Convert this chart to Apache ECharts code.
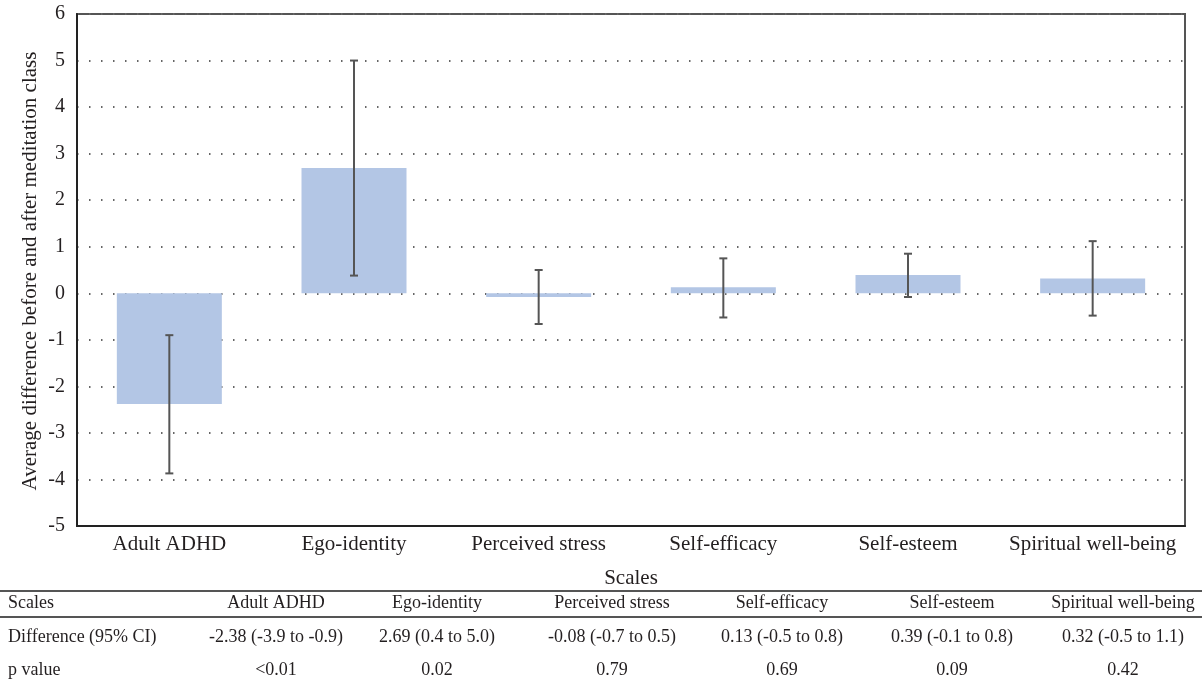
<!DOCTYPE html>
<html>
<head>
<meta charset="utf-8">
<script src="https://cdn.jsdelivr.net/npm/echarts@6/dist/echarts.min.js"></script>
<style>
  html, body { margin: 0; padding: 0; background: #fff; }
  #chart { width: 1202px; height: 684px; }
</style>
</head>
<body>
<div id="chart"></div>
<script>
// data
var categories = ['Adult ADHD', 'Ego-identity', 'Perceived stress', 'Self-efficacy', 'Self-esteem', 'Spiritual well-being'];
var diffs = [-2.38, 2.69, -0.08, 0.13, 0.39, 0.32];
var ciLow = [-3.87, 0.38, -0.66, -0.52, -0.08, -0.48];
var ciHigh = [-0.9, 5.0, 0.5, 0.75, 0.85, 1.12];
var ciText = ['-2.38 (-3.9 to -0.9)', '2.69 (0.4 to 5.0)', '-0.08 (-0.7 to 0.5)', '0.13 (-0.5 to 0.8)', '0.39 (-0.1 to 0.8)', '0.32 (-0.5 to 1.1)'];
var pValues = ['<0.01', '0.02', '0.79', '0.69', '0.09', '0.42'];

var FONT = '"Liberation Serif", "DejaVu Serif", serif';
var TXT = '#231f20';

var chart = echarts.init(document.getElementById('chart'));

// table below the chart
var colX = [276, 437, 612, 782, 952, 1123];
var rowY = [603, 637, 670];
var rowNames = ['Scales', 'Difference (95% CI)', 'p value'];
var rows = [categories, ciText, pValues];
var tableEls = [
  { type: 'line', shape: { x1: 0, y1: 591, x2: 1202, y2: 591 }, style: { stroke: '#555', lineWidth: 2 } },
  { type: 'line', shape: { x1: 0, y1: 617, x2: 1202, y2: 617 }, style: { stroke: '#555', lineWidth: 2 } }
];
rowNames.forEach(function (name, r) {
  tableEls.push({ type: 'text', x: 8, y: rowY[r], style: { text: name, font: '18px ' + FONT, fill: TXT, textAlign: 'left', textVerticalAlign: 'middle' } });
  rows[r].forEach(function (v, c) {
    tableEls.push({ type: 'text', x: colX[c], y: rowY[r], style: { text: v, font: '18px ' + FONT, fill: TXT, textAlign: 'center', textVerticalAlign: 'middle' } });
  });
});
// y axis title
tableEls.push({
  type: 'text', x: 30, y: 271, rotation: Math.PI / 2,
  style: { text: 'Average difference before and after meditation class', font: '21px ' + FONT, fill: TXT, textAlign: 'center', textVerticalAlign: 'middle' }
});

var option = {
  animation: false,
  backgroundColor: '#fff',
  grid: {
    left: 77, right: 17, top: 14, bottom: 158,
    show: true, borderColor: '#555', borderWidth: 2
  },
  xAxis: {
    type: 'category',
    data: categories,
    name: 'Scales',
    nameLocation: 'middle',
    nameGap: 42,
    nameTextStyle: { fontFamily: FONT, fontSize: 21, color: TXT },
    axisLine: { show: true, onZero: false, lineStyle: { color: '#222', width: 2 } },
    axisTick: { show: false },
    axisLabel: { fontFamily: FONT, fontSize: 21, color: TXT, margin: 8, interval: 0 }
  },
  yAxis: {
    type: 'value',
    min: -5, max: 6, interval: 1,
    axisLine: { show: true, lineStyle: { color: '#222', width: 2 } },
    axisTick: { show: false },
    axisLabel: { fontFamily: FONT, fontSize: 20, color: TXT, margin: 12 },
    splitLine: { show: true, lineStyle: { color: '#666', width: 2, type: [1.5, 10.5] } }
  },
  graphic: tableEls,
  series: [
    {
      type: 'bar',
      data: diffs,
      barWidth: 105,
      itemStyle: { color: '#b3c6e5' },
      z: 1
    },
    {
      type: 'custom',
      data: categories.map(function (c, i) { return [i, ciLow[i], ciHigh[i]]; }),
      renderItem: function (params, api) {
        var lo = api.coord([api.value(0), api.value(1)]);
        var hi = api.coord([api.value(0), api.value(2)]);
        var hw = 4;
        var st = { stroke: '#555', lineWidth: 2 };
        return {
          type: 'group',
          children: [
            { type: 'line', shape: { x1: lo[0], y1: lo[1], x2: hi[0], y2: hi[1] }, style: st },
            { type: 'line', shape: { x1: lo[0] - hw, y1: lo[1], x2: lo[0] + hw, y2: lo[1] }, style: st },
            { type: 'line', shape: { x1: hi[0] - hw, y1: hi[1], x2: hi[0] + hw, y2: hi[1] }, style: st }
          ]
        };
      },
      z: 5
    }
  ]
};
chart.setOption(option);
</script>
</body>
</html>
